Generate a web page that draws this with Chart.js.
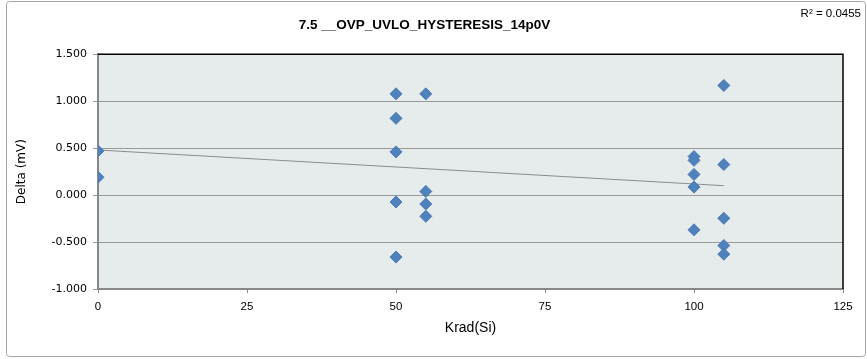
<!DOCTYPE html>
<html>
<head>
<meta charset="utf-8">
<script src="https://cdn.jsdelivr.net/npm/chart.js@4.4.1/dist/chart.umd.min.js"></script>
<style>
  html,body{margin:0;padding:0;background:#fff;}
  #wrap{width:867px;height:359px;}
</style>
</head>
<body>
<div id="wrap"><canvas id="chart" width="867" height="359"></canvas></div>
<script>
const kradValues = [0, 0, 50, 50, 50, 50, 50, 55, 55, 55, 55, 100, 100, 100, 100, 100, 105, 105, 105, 105, 105];
const deltaValues = [0.470, 0.190, 1.078, 0.817, 0.460, -0.074, -0.660, 1.078, 0.039, -0.095, -0.226,
                     0.410, 0.370, 0.220, 0.085, -0.370, 1.167, 0.325, -0.247, -0.537, -0.629];

// linear trendline ends
const trendX = [0, 105];
const trendY = [0.48, 0.10];

const yTicks = [-1.0, -0.5, 0.0, 0.5, 1.0, 1.5];
const xTicks = [0, 25, 50, 75, 100, 125];

const chartTitle = "7.5 __OVP_UVLO_HYSTERESIS_14p0V";
const rSquared = "R\u00B2 = 0.0455";

const SANS = "'Liberation Sans', Arial, sans-serif";

const framePlugin = {
  id: "frame",
  beforeDraw(chart){
    const {ctx, chartArea:a} = chart;
    ctx.save();
    ctx.fillStyle = "#fff";
    ctx.fillRect(0, 0, chart.width, chart.height);
    // outer chart border
    ctx.strokeStyle = "#a6a6a6";
    ctx.lineWidth = 1;
    ctx.beginPath();
    ctx.roundRect(6.5, 1.5, 859, 355, 3);
    ctx.stroke();
    // plot area fill
    ctx.fillStyle = "#e6ecec";
    ctx.fillRect(a.left, a.top, a.right - a.left, a.bottom - a.top);
    ctx.restore();
  },
  afterDraw(chart){
    const {ctx, chartArea:a} = chart;
    ctx.save();
    ctx.strokeStyle = "#000";
    ctx.lineWidth = 1.5;
    ctx.beginPath();
    ctx.moveTo(a.left, a.top);
    ctx.lineTo(a.right, a.top);
    ctx.lineTo(a.right, a.bottom);
    ctx.stroke();
    ctx.fillStyle = "#000";
    ctx.font = "11.5px " + SANS;
    ctx.textAlign = "right";
    ctx.textBaseline = "middle";
    ctx.fillText(rSquared, 861, 14);
    ctx.restore();
  }
};

new Chart(document.getElementById("chart").getContext("2d"), {
  type: "scatter",
  data: {
    datasets: [
      {
        label: "Delta",
        data: kradValues.map((x,i)=>({x, y: deltaValues[i]})),
        pointStyle: "rectRot",
        pointRadius: 6,
        pointHoverRadius: 6,
        backgroundColor: "#4f81bd",
        borderColor: "#4a7ab5",
        borderWidth: 1,
        order: 1
      },
      {
        label: "Trend",
        type: "line",
        data: trendX.map((x,i)=>({x, y: trendY[i]})),
        borderColor: "#8c8c8c",
        borderWidth: 1,
        pointRadius: 0,
        fill: false,
        order: 2
      }
    ]
  },
  options: {
    responsive: false,
    animation: false,
    layout: { padding: { left: 6, right: 24, top: 0, bottom: 2 } },
    plugins: {
      legend: { display: false },
      tooltip: { enabled: false },
      title: {
        display: true,
        text: chartTitle,
        color: "#000",
        font: { family: SANS, size: 13.5, weight: "bold" },
        padding: { top: 17, bottom: 21 }
      }
    },
    scales: {
      x: {
        type: "linear",
        min: 0, max: 125,
        afterBuildTicks(s){ s.ticks = xTicks.map(v=>({value:v})); },
        afterFit(s){ s.height = 68; },
        grid: { drawOnChartArea: false, tickLength: 4, color: "#888" },
        border: { color: "#888", width: 2 },
        ticks: { color: "#000", padding: 7, maxRotation: 0,
                 font: { family: SANS, size: 11.5 } },
        title: { display: true, text: "Krad(Si)", color: "#000",
                 font: { family: SANS, size: 14 }, padding: { top: 0, bottom: 20 } }
      },
      y: {
        type: "linear",
        min: -1, max: 1.5,
        afterBuildTicks(s){ s.ticks = yTicks.map(v=>({value:v})); },
        afterFit(s){ s.width = 92; },
        grid: { color: "#999", lineWidth: 1, tickLength: 5 },
        border: { color: "#888", width: 2 },
        ticks: { color: "#000", padding: 6,
                 font: { family: "'DejaVu Sans', sans-serif", size: 11 },
                 callback: v => v.toFixed(3) },
        title: { display: true, text: "Delta (mV)", color: "#000",
                 font: { family: "'DejaVu Sans', sans-serif", size: 12 }, padding: { top: 9, bottom: 0 } }
      }
    }
  },
  plugins: [framePlugin]
});
</script>
</body>
</html>
